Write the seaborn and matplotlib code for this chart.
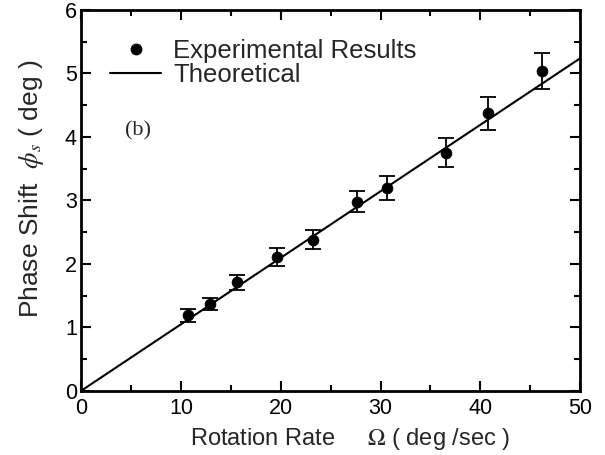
import numpy as np
import pandas as pd
import matplotlib
matplotlib.use("Agg")
import matplotlib.pyplot as plt
import seaborn as sns
from matplotlib.lines import Line2D
from matplotlib.ticker import MultipleLocator

# data
rate = [10.7, 12.9, 15.6, 19.6, 23.2, 27.6, 30.6, 36.6, 40.8, 46.2]
shift = [1.19, 1.37, 1.71, 2.11, 2.38, 2.98, 3.20, 3.75, 4.37, 5.04]
shift_err = [0.10, 0.10, 0.12, 0.14, 0.15, 0.17, 0.19, 0.23, 0.26, 0.29]
theory_rate = [0, 50]
theory_shift = [0, 5.24]

df = pd.DataFrame({"rate": rate, "shift": shift, "err": shift_err})
theory = pd.DataFrame({"rate": theory_rate, "shift": theory_shift})

sns.set_style("ticks")
plt.rcParams["font.family"] = ["Liberation Sans", "DejaVu Sans"]
plt.rcParams["mathtext.fontset"] = "stix"

fig = plt.figure(figsize=(6.05, 4.55), dpi=100)
ax = fig.add_axes([0.134, 0.141, 0.825, 0.837])

sns.lineplot(data=theory, x="rate", y="shift", color="black", lw=1.5, ax=ax)
ax.errorbar(df["rate"], df["shift"], yerr=df["err"], fmt="none",
            ecolor="black", elinewidth=1.3, capsize=5.5, capthick=1.3)
sns.scatterplot(data=df, x="rate", y="shift", color="black", s=60,
                edgecolor="black", zorder=3, ax=ax)

ax.set_xlim(0, 50)
ax.set_ylim(0, 6)
ax.xaxis.set_major_locator(MultipleLocator(10))
ax.xaxis.set_minor_locator(MultipleLocator(5))
ax.yaxis.set_major_locator(MultipleLocator(1))
ax.yaxis.set_minor_locator(MultipleLocator(0.5))
ax.tick_params(which="both", direction="in", top=True, right=True,
               width=1.5, labelsize=15.5, colors="black")
ax.tick_params(which="major", length=7)
ax.tick_params(axis="x", which="major", pad=5)
ax.tick_params(axis="y", which="major", pad=3)
ax.tick_params(which="minor", length=4)
for s in ax.spines.values():
    s.set_linewidth(2)
    s.set_color("black")

ax.set_xlabel("Rotation Rate     $\\Omega$ ( deg /sec )", fontsize=17)
ax.set_ylabel("Phase Shift  $\\phi_s$ ( deg )", fontsize=19)
ax.xaxis.set_label_coords(0.54, -0.092)
ax.yaxis.set_label_coords(-0.07, 0.53)

handles = [
    Line2D([], [], marker="o", color="black", ls="none", markersize=7.5),
    Line2D([], [], color="black", lw=1.5),
]
ax.legend(handles, ["Experimental Results", "Theoretical"], loc="upper left",
          bbox_to_anchor=(0.058, 0.925), frameon=False, fontsize=18.5,
          handlelength=2.0, handletextpad=0.45, labelspacing=0.02,
          borderaxespad=0, borderpad=0)

ax.text(5.7, 4.1, "(b)", fontsize=16, family="Liberation Serif",
        ha="center", va="center")

fig.savefig("out.png", dpi=100)
